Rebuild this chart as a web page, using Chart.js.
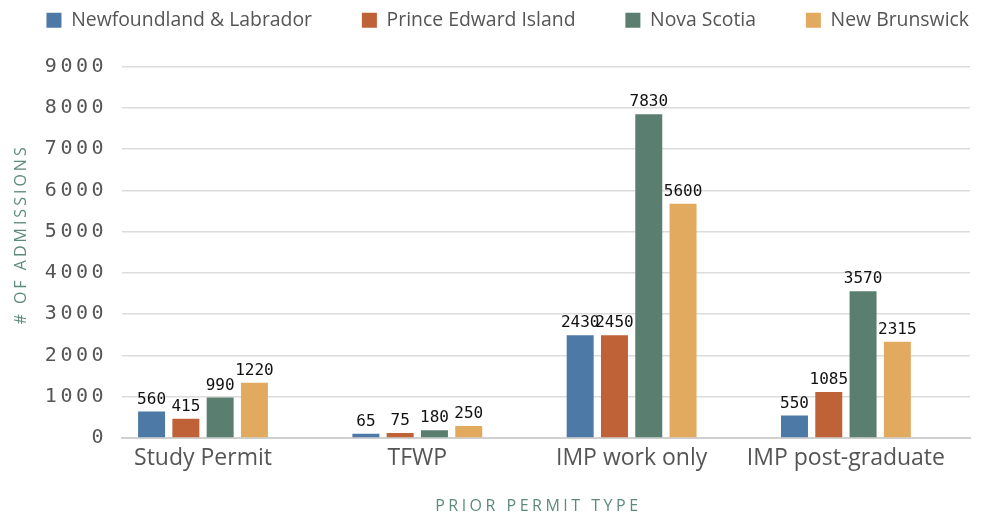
<!DOCTYPE html>
<html>
<head>
<meta charset="utf-8">
<script src="https://cdn.jsdelivr.net/npm/chart.js@4.4.1/dist/chart.umd.min.js"></script>
<style>
html,body{margin:0;padding:0;background:#ffffff;}
#wrap{width:987px;height:516px;position:relative;}
</style>
</head>
<body>
<div id="wrap"><canvas id="c"></canvas></div>
<script>
// ---- data ----
const categories = ['Study Permit', 'TFWP', 'IMP work only', 'IMP post-graduate'];
const seriesNames = ['Newfoundland & Labrador', 'Prince Edward Island', 'Nova Scotia', 'New Brunswick'];
// bar heights as drawn
const nlValues  = [640, 100, 2490, 545];
const peiValues = [465, 120, 2490, 1115];
const nsValues  = [980, 190, 7850, 3555];
const nbValues  = [1340, 290, 5680, 2330];
// value labels as printed above the bars
const nlLabels  = ['560', '65', '2430', '550'];
const peiLabels = ['415', '75', '2450', '1085'];
const nsLabels  = ['990', '180', '7830', '3570'];
const nbLabels  = ['1220', '250', '5600', '2315'];
const yTicks = [0, 1000, 2000, 3000, 4000, 5000, 6000, 7000, 8000, 9000];

const seriesValues = [nlValues, peiValues, nsValues, nbValues];
const seriesLabels = [nlLabels, peiLabels, nsLabels, nbLabels];
const colors = ['#4c79a5', '#c06237', '#5a7e6f', '#e2aa5f'];

const datasets = seriesNames.map((name, s) => ({
  label: name,
  data: seriesValues[s].map((v, i) => ({ x: i, y: v })),
  valueLabels: seriesLabels[s],
  backgroundColor: colors[s],
  borderWidth: 0,
  categoryPercentage: 0.64,
  barPercentage: 0.787
}));

const valueLabelPlugin = {
  id: 'valueLabels',
  afterDatasetsDraw(chart) {
    const ctx = chart.ctx;
    ctx.save();
    ctx.font = '16px "DejaVu Sans Mono"';
    ctx.fillStyle = '#111111';
    ctx.textAlign = 'center';
    ctx.textBaseline = 'alphabetic';
    chart.data.datasets.forEach((ds, di) => {
      const meta = chart.getDatasetMeta(di);
      meta.data.forEach((bar, i) => {
        ctx.fillText(ds.valueLabels[i], bar.x, bar.y - 8);
      });
    });
    ctx.restore();
  }
};

const spacingPlugin = {
  id: 'letterSpacing',
  afterInit(chart) {
    const lg = chart.legend;
    if (lg) {
      const f = lg.fit;
      lg.fit = function () { f.call(this); this.height += 26.8; };
    }
  },
  beforeDraw(chart) {
    const patch = (scale, method, sp) => {
      if (!scale || scale['_p_' + method]) return;
      const orig = scale[method];
      scale[method] = function (...a) {
        const ctx = this.ctx;
        ctx.save();
        ctx.letterSpacing = sp;
        orig.apply(this, a);
        ctx.restore();
      };
      scale['_p_' + method] = true;
    };
    patch(chart.scales.y, 'drawLabels', '3.5px');
    patch(chart.scales.y, 'drawTitle', '3px');
    patch(chart.scales.x, 'drawTitle', '3.5px');
  }
};

const axisTitleColor = '#5d8b7a';

new Chart(document.getElementById('c'), {
  type: 'bar',
  data: { datasets },
  plugins: [spacingPlugin, valueLabelPlugin],
  options: {
    responsive: true,
    maintainAspectRatio: false,
    animation: false,
    events: [],
    layout: { padding: { left: 0, right: 17, top: 9.5, bottom: 0 } },
    plugins: {
      tooltip: { enabled: false },
      legend: {
        position: 'top',
        align: 'end',
        labels: {
          boxWidth: 15,
          boxHeight: 15,
          padding: 1,
          color: '#555555',
          font: { family: '"Open Sans"', size: 19.4 },
          generateLabels(chart) {
            const items = Chart.defaults.plugins.legend.labels.generateLabels(chart);
            items.forEach((it, i) => { if (i < items.length - 1) it.text += '\u2003\u2003  '; });
            return items;
          }
        }
      }
    },
    scales: {
      x: {
        type: 'linear',
        offset: false,
        min: -0.378,
        max: 3.579,
        afterBuildTicks(s) { s.ticks = categories.map((_, i) => ({ value: i })); },
        ticks: {
          callback: (v) => categories[v],
          padding: 7,
          color: '#555555',
          maxRotation: 0,
          autoSkip: false,
          font: { family: '"Open Sans"', size: 23 }
        },
        grid: { display: false, drawTicks: false, offset: false },
        border: { display: true, color: '#d0d0d0', width: 2 },
        title: {
          display: true,
          text: 'PRIOR PERMIT TYPE  ',
          color: axisTitleColor,
          font: { family: '"Open Sans"', size: 16 },
          padding: { top: 14, bottom: 0 }
        },
        afterFit(s) { s.height = 78; }
      },
      y: {
        min: 0,
        max: 9000,
        afterBuildTicks(s) { s.ticks = yTicks.map(v => ({ value: v })); },
        ticks: {
          padding: 15,
          color: '#555555',
          callback: (v) => String(v),
          font: { family: '"DejaVu Sans Mono"', size: 20 }
        },
        grid: { color: '#dcdcdc', lineWidth: 1.5, drawTicks: false },
        border: { display: false },
        title: {
          display: true,
          text: '     # OF ADMISSIONS',
          color: axisTitleColor,
          font: { family: '"Open Sans"', size: 16 },
          padding: { top: 12, bottom: 0 }
        },
        afterFit(s) { s.width = 122; }
      }
    }
  }
});
</script>
</body>
</html>
